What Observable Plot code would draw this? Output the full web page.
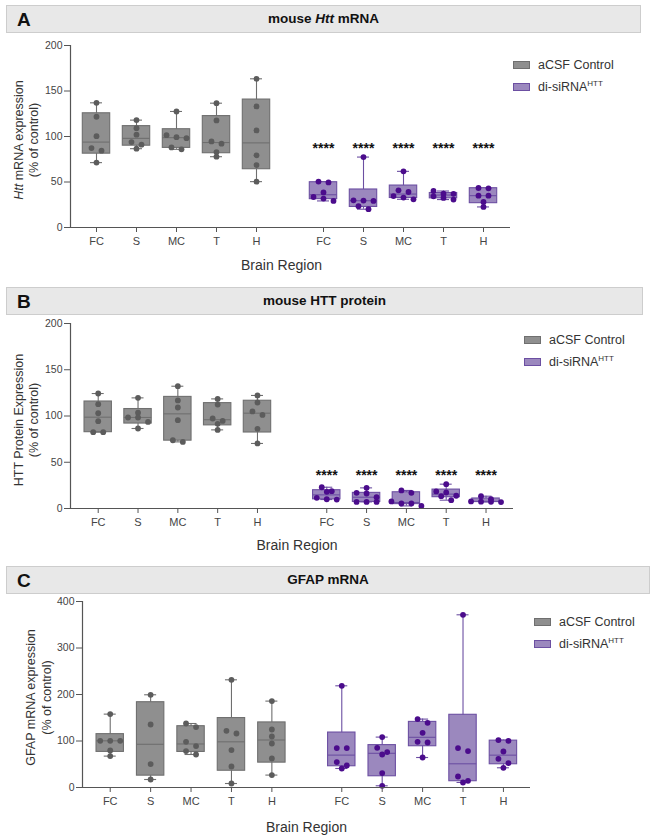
<!DOCTYPE html>
<html><head><meta charset="utf-8">
<script src="https://cdn.jsdelivr.net/npm/d3@7"></script>
<script src="https://cdn.jsdelivr.net/npm/@observablehq/plot@0.6"></script>
<style>
body{margin:0;background:#fff;font-family:"Liberation Sans",Arial,sans-serif;}
#root{position:relative;width:661px;height:840px;overflow:hidden;background:#fff;}
.hdr{position:absolute;box-sizing:border-box;background:#e8e8e8;border:1px solid #cdcdcd;}
.hdr .lt{position:absolute;left:10px;top:50%;transform:translateY(-50%);font-weight:bold;font-size:19px;color:#111;line-height:1;}
.hdr .tt{position:absolute;left:0;right:0;top:50%;transform:translateY(-50%);text-align:center;font-weight:bold;font-size:13.5px;color:#111;line-height:1;}
.plot{position:absolute;left:0;}
.lg{position:absolute;font-size:12.5px;color:#333;z-index:2;}
.lg .row{position:absolute;left:0;white-space:nowrap;height:14px;line-height:14px;}
.lg .sw{position:absolute;left:0;top:3px;width:17px;height:8px;box-sizing:border-box;}
.lg .tx{position:absolute;left:25px;top:0;}
.lg sup{font-size:8px;vertical-align:5px;line-height:0;}
</style></head><body><div id="root"></div>
<script>
// ---------- data ----------
const regions = ["FC", "S", "MC", "T", "H"];
const groups = ["aCSF Control", "di-siRNA HTT"];

// Panel A: mouse Htt mRNA (% of control), one array per brain region
const httMrnaControl = [
  [137, 121.7, 100.4, 87.3, 84.4, 71.3],
  [118, 109.2, 102, 93.9, 91, 86.6],
  [127.5, 101.5, 99.3, 98.2, 88, 85.9],
  [136.6, 117.7, 94.6, 92.1, 82.9, 77.8],
  [163.4, 133, 106.7, 79.3, 68.6, 50.4]
];
const httMrnaSirna = [
  [50.5, 49.5, 38.5, 33.5, 31.8, 29.2],
  [77.4, 29.9, 29.6, 29.2, 23.4, 20.1],
  [61.7, 40.9, 39.0, 34.5, 32.9, 31.0],
  [40.1, 37.2, 37.0, 34.3, 32.5, 30.7],
  [43.4, 43.1, 35.0, 35.0, 28.1, 22.6]
];
const httMrnaStars = ["****", "****", "****", "****", "****"];
const httMrnaStarLevel = 90;

// Panel B: mouse HTT protein (% of control)
const httProtControl = [
  [124.3, 112.8, 103, 94.4, 82.5, 82.5],
  [119.6, 103.5, 98.4, 98.4, 93.6, 86.5],
  [132.2, 116.8, 109.2, 95.5, 73.8, 72],
  [118.5, 112.4, 97.3, 94.7, 91.5, 85],
  [122.2, 114.6, 104.9, 101.2, 86.1, 70.3]
];
const httProtSirna = [
  [23, 18.7, 18, 11.5, 10, 9.7],
  [22.3, 16.9, 16.2, 12.2, 7.1, 7.1, 7.1],
  [19.5, 16.9, 7.6, 5.4, 5.4, 2.8],
  [26.3, 18.5, 17.3, 13.8, 13.3, 9],
  [13.3, 10, 7.6, 7.4, 7.2, 7.0]
];
const httProtStars = ["****", "****", "****", "****", "****"];
const httProtStarLevel = 39;

// Panel C: GFAP mRNA (% of control)
const gfapControl = [
  [157.8, 100.4, 100.4, 100.4, 79.6, 67.5],
  [199.4, 135.5, 50.3, 17.2],
  [137.6, 129.9, 98.3, 89, 78.3, 71],
  [231.6, 121.9, 116.1, 80.4, 45.2, 8.6],
  [185.8, 124.7, 109.7, 94.6, 62.4, 26.7]
];
const gfapSirna = [
  [218.7, 84.7, 84.7, 54.6, 47.3, 40.9],
  [108.4, 85.4, 76.1, 71, 31, 3.7],
  [147.1, 139.1, 117.6, 98.3, 96.8, 64.5],
  [371.4, 84.7, 78.3, 23.7, 14.4, 10.8],
  [101.9, 100.4, 77.4, 61.7, 52.5, 42.4]
];
const gfapStars = [];
const gfapStarLevel = 0;

const yTicksAB = [0, 50, 100, 150, 200];
const yTicksC = [0, 100, 200, 300, 400];

// ---------- styling ----------
const FONT = '"Liberation Sans", Arial, sans-serif';
const COLORS = [
  {fill: "#8f8f8f", stroke: "#6f6f6f", dot: "#5c5c5c"},
  {fill: "#9b88be", stroke: "#6c4fa2", dot: "#4b0c8c"}
];

// Prism-style (n+1) quantiles
function pq(asc, p) {
  const n = asc.length, h = (n + 1) * p;
  if (h <= 1) return asc[0];
  if (h >= n) return asc[n - 1];
  const lo = Math.floor(h);
  return asc[lo - 1] + (h - lo) * (asc[lo] - asc[lo - 1]);
}
// row based horizontal spreading of overlapping dots (pixel offsets)
function spread(vals, pxPerUnit, rowPx, stepPx) {
  const idx = vals.map((v, i) => i).sort((a, b) => vals[b] - vals[a]);
  const rows = [];
  let cur = null;
  for (const i of idx) {
    if (cur && (vals[cur[0]] - vals[i]) * pxPerUnit < rowPx) cur.push(i);
    else { cur = [i]; rows.push(cur); }
  }
  const off = new Array(vals.length).fill(0);
  for (const r of rows) r.forEach((i, k) => off[i] = (k - (r.length - 1) / 2) * stepPx);
  return off;
}

const panels = [
  {letter: "A", title: 'mouse <i>Htt</i> mRNA', hdr: {top: 5, left: 6, width: 635, height: 28},
   svgTop: 35, height: 240, mt: 10, mb: 48, ml: 70, mr: 151, yMax: 200, yTicks: yTicksAB,
   xDomain: [-0.65, 10.35], offset: 5.675, control: httMrnaControl, sirna: httMrnaSirna,
   stars: httMrnaStars, starLevel: httMrnaStarLevel,
   yTitle: ["Htt mRNA expression", "(% of control)"], yDx: [-52, -37], yDy: 3.5,
   brainDx: -9, brainDy: 38, legend: {left: 513, top: 58}},
  {letter: "B", title: 'mouse HTT protein', hdr: {top: 287, left: 6, width: 637, height: 28},
   svgTop: 316, height: 244, mt: 7, mb: 52, ml: 70, mr: 148, yMax: 200, yTicks: yTicksAB,
   xDomain: [-0.696, 10.43], offset: 5.74, control: httProtControl, sirna: httProtSirna,
   stars: httProtStars, starLevel: httProtStarLevel,
   yTitle: ["HTT Protein Expression", "(% of control)"], yDx: [-52, -37], yDy: 4,
   brainDx: 5, brainDy: 37, legend: {left: 524, top: 333}},
  {letter: "C", title: 'GFAP mRNA', hdr: {top: 566, left: 6, width: 644, height: 28},
   svgTop: 595, height: 245, mt: 6, mb: 53, ml: 82, mr: 131, yMax: 400, yTicks: yTicksC,
   xDomain: [-0.686, 10.40], offset: 5.73, control: gfapControl, sirna: gfapSirna,
   stars: gfapStars, starLevel: gfapStarLevel,
   yTitle: ["GFAP mRNA expression", "(% of control)"], yDx: [-52, -36], yDy: 3,
   brainDx: 0, brainDy: 40, legend: {left: 534, top: 615}}
];

const root = document.getElementById("root");

for (const cfg of panels) {
  // header
  const h = document.createElement("div");
  h.className = "hdr";
  Object.assign(h.style, {top: cfg.hdr.top + "px", left: cfg.hdr.left + "px", width: cfg.hdr.width + "px", height: cfg.hdr.height + "px"});
  h.innerHTML = `<div class="lt">${cfg.letter}</div><div class="tt">${cfg.title}</div>`;
  root.appendChild(h);

  const W = 661;
  const innerW = W - cfg.ml - cfg.mr;
  const innerH = cfg.height - cfg.mt - cfg.mb;
  const pxX = innerW / (cfg.xDomain[1] - cfg.xDomain[0]);
  const pxY = innerH / cfg.yMax;

  const stats = [], pts = [];
  [cfg.control, cfg.sirna].forEach((series, gi) => {
    series.forEach((vals, ri) => {
      const pos = gi * cfg.offset + ri;
      const asc = [...vals].sort((a, b) => a - b);
      stats.push({gi, region: regions[ri], group: groups[gi], pos,
        min: asc[0], max: asc[asc.length - 1], q1: pq(asc, 0.25), med: pq(asc, 0.5), q3: pq(asc, 0.75)});
      const offs = spread(vals, pxY, 4.5, 10);
      vals.forEach((v, k) => pts.push({gi, pos, x: pos + offs[k] / pxX, y: v}));
    });
  });
  const starData = cfg.stars.map((s, ri) => ({pos: cfg.offset + ri, text: s, y: cfg.starLevel}));
  const labelByPos = new Map(stats.map(d => [d.pos, d.region]));
  const boxHalf = 13.7 / pxX, capHalf = 6 / pxX;

  const marks = [];
  for (let gi = 0; gi < 2; gi++) {
    const S = stats.filter(d => d.gi === gi), c = COLORS[gi];
    marks.push(
      Plot.ruleX(S, {x: "pos", y1: "min", y2: "max", stroke: c.stroke, strokeWidth: 1.1}),
      Plot.ruleY(S, {y: "max", x1: d => d.pos - capHalf, x2: d => d.pos + capHalf, stroke: c.stroke, strokeWidth: 1.1}),
      Plot.ruleY(S, {y: "min", x1: d => d.pos - capHalf, x2: d => d.pos + capHalf, stroke: c.stroke, strokeWidth: 1.1}),
      Plot.rectY(S, {x1: d => d.pos - boxHalf, x2: d => d.pos + boxHalf, y1: "q1", y2: "q3", fill: c.fill, stroke: c.stroke, strokeWidth: 1.1}),
      Plot.ruleY(S, {y: "med", x1: d => d.pos - boxHalf, x2: d => d.pos + boxHalf, stroke: c.stroke, strokeWidth: 1.1}),
      Plot.dot(pts.filter(d => d.gi === gi), {x: "x", y: "y", r: 2.9, fill: c.dot, stroke: "none"})
    );
  }

  const chart = Plot.plot({
    width: W, height: cfg.height,
    marginTop: cfg.mt, marginBottom: cfg.mb, marginLeft: cfg.ml, marginRight: cfg.mr,
    style: {fontFamily: FONT, fontSize: "11px", color: "#444", background: "transparent", overflow: "visible"},
    x: {type: "linear", domain: cfg.xDomain, axis: null},
    y: {domain: [0, cfg.yMax], axis: null},
    marks: [
      ...marks,
      Plot.text(starData, {x: "pos", y: "y", text: "text", fontSize: 14, fontWeight: "bold", fill: "#111", dy: 3}),
      Plot.ruleY([0], {stroke: "#555", strokeWidth: 1.2}),
      Plot.ruleX([cfg.xDomain[0]], {stroke: "#555", strokeWidth: 1.2}),
      Plot.axisY({ticks: cfg.yTicks, tickSize: 6, tickPadding: 2, fontSize: 10.5, stroke: "#555", fill: "#444", label: null}),
      Plot.axisX({ticks: stats.map(d => d.pos), tickFormat: p => labelByPos.get(p), tickSize: 5, tickPadding: 4.5, fontSize: 11, stroke: "#555", fill: "#444", label: null}),
      Plot.text(["Brain Region"], {frameAnchor: "bottom", textAnchor: "middle", lineAnchor: "middle", dx: cfg.brainDx, dy: cfg.brainDy, fontSize: 14, fill: "#333"}),
      Plot.text([cfg.yTitle[0]], {frameAnchor: "left", textAnchor: "middle", lineAnchor: "middle", rotate: -90, dx: cfg.yDx[0], dy: cfg.yDy, fontSize: 12.5, fill: "#333"}),
      Plot.text([cfg.yTitle[1]], {frameAnchor: "left", textAnchor: "middle", lineAnchor: "middle", rotate: -90, dx: cfg.yDx[1], dy: cfg.yDy, fontSize: 12.5, fill: "#333"})
    ]
  });
  chart.classList.add("plot");
  chart.style.top = cfg.svgTop + "px";
  root.appendChild(chart);

  // italic gene symbol in the y title
  d3.select(chart).selectAll("text").filter(function () { return this.textContent === "Htt mRNA expression"; })
    .each(function () {
      const t = d3.select(this);
      t.text(null);
      t.append("tspan").attr("font-style", "italic").text("Htt");
      t.append("tspan").text(" mRNA expression");
    });

  // legend
  const lg = document.createElement("div");
  lg.className = "lg";
  lg.style.left = cfg.legend.left + "px";
  lg.style.top = cfg.legend.top + "px";
  lg.innerHTML =
    `<div class="row" style="top:0"><span class="sw" style="background:${COLORS[0].fill};border:1px solid ${COLORS[0].stroke}"></span><span class="tx">aCSF Control</span></div>` +
    `<div class="row" style="top:21.5px"><span class="sw" style="background:${COLORS[1].fill};border:1px solid ${COLORS[1].stroke}"></span><span class="tx">di-siRNA<sup>HTT</sup></span></div>`;
  root.appendChild(lg);
}
</script></body></html>
